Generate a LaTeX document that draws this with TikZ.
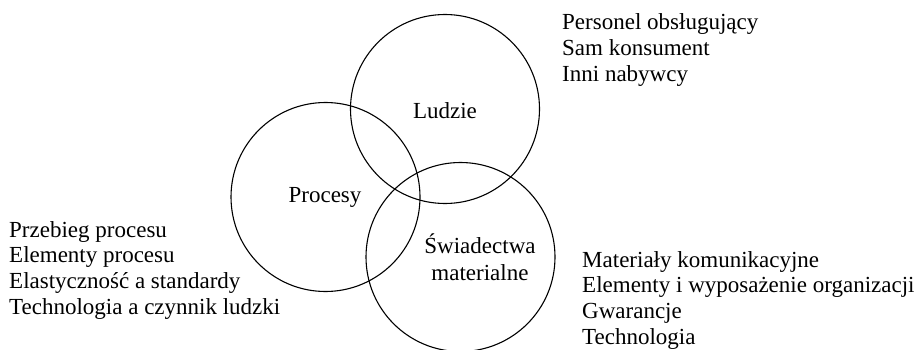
\documentclass[tikz,border=0pt]{standalone}
\usepackage{fontspec}
\setmainfont{Liberation Serif}
\begin{document}
\begin{tikzpicture}[x=1pt, y=-1pt,
  ring/.style={draw, circle, minimum size=189pt, inner sep=0pt, line width=1.1pt},
  txt/.style={font=\fontsize{23}{25.7}\selectfont, inner sep=0pt},
  listtxt/.style={txt, align=left, anchor=base west},
  centretxt/.style={txt, align=center, anchor=base}]
\useasboundingbox (0,0) rectangle (920,350);

% the three overlapping circles
\node[ring] (ludzieC) at (445,109) {};
\node[ring] (procesyC) at (325.5,197) {};
\node[ring] (swiadC) at (460.5,257) {};

% circle titles (base anchor sits on the last line)
\node[centretxt] (ludzie) at (445,118) {Ludzie};
\node[centretxt] (procesy) at (325,202) {Procesy};
\node[centretxt, font=\fontsize{23}{27}\selectfont] (swiad) at (480,280) {Świadectwa\\materialne};

% lists of components
\node[listtxt] (ludzieList) at (562,81.4) {Personel obsługujący\\Sam konsument\\Inni nabywcy};
\node[listtxt] (procesyList) at (9,314.1) {Przebieg procesu\\Elementy procesu\\Elastyczność a standardy\\Technologia a czynnik ludzki};
\node[listtxt] (swiadList) at (582,344.1) {Materiały komunikacyjne\\Elementy i wyposażenie organizacji\\Gwarancje\\Technologia};
\end{tikzpicture}
\end{document}
